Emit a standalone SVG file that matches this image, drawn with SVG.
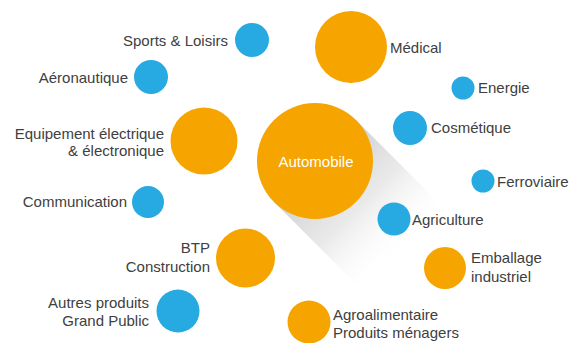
<svg xmlns="http://www.w3.org/2000/svg" width="569" height="343" viewBox="0 0 569 343">
<defs>
<linearGradient id="shadow" gradientUnits="userSpaceOnUse" x1="315" y1="161" x2="405" y2="251">
<stop offset="0" stop-color="#c4c4c4" stop-opacity="0.85"/>
<stop offset="0.5" stop-color="#d8d8d8" stop-opacity="0.55"/>
<stop offset="1" stop-color="#ffffff" stop-opacity="0"/>
</linearGradient>
</defs>
<style>
.o{fill:#F5A400}
.b{fill:#27A9E1}
text{font-family:"Liberation Sans",Arial,sans-serif;font-size:15px;fill:#404040}
.r{text-anchor:end}
.w{fill:#ffffff;text-anchor:middle}
</style>
<rect width="569" height="343" fill="#ffffff"/>
<g id="connectors"/>
<polygon points="356,120 274,202 374,302 456,220" fill="url(#shadow)"/>
<g id="automobile"><circle class="o" cx="315" cy="161" r="58"/><text class="w" x="316" y="167">Automobile</text></g>
<g id="sports"><circle class="b" cx="252" cy="40" r="17"/><text class="r" x="228" y="46">Sports &amp; Loisirs</text></g>
<g id="aeronautique"><circle class="b" cx="151" cy="77" r="17"/><text class="r" x="128" y="83">Aéronautique</text></g>
<g id="equipement"><circle class="o" cx="204" cy="141" r="33.5"/><text class="r" x="164" y="139">Equipement électrique</text><text class="r" x="164" y="156">&amp; électronique</text></g>
<g id="communication"><circle class="b" cx="148" cy="202" r="16"/><text class="r" x="127" y="207">Communication</text></g>
<g id="btp"><circle class="o" cx="245.5" cy="258" r="29.5"/><text class="r" x="210" y="253">BTP</text><text class="r" x="210" y="272">Construction</text></g>
<g id="autres"><circle class="b" cx="178" cy="311" r="21.5"/><text class="r" x="149" y="308">Autres produits</text><text class="r" x="149" y="326">Grand Public</text></g>
<g id="medical"><circle class="o" cx="351" cy="47" r="36"/><text x="390" y="53">Médical</text></g>
<g id="energie"><circle class="b" cx="463" cy="88" r="11.5"/><text x="478" y="93">Energie</text></g>
<g id="cosmetique"><circle class="b" cx="410" cy="128" r="17"/><text x="431" y="133">Cosmétique</text></g>
<g id="ferroviaire"><circle class="b" cx="483" cy="181" r="11.5"/><text x="497" y="187">Ferroviaire</text></g>
<g id="agriculture"><circle class="b" cx="394" cy="219" r="16.5"/><text x="412" y="225">Agriculture</text></g>
<g id="emballage"><circle class="o" cx="445" cy="268" r="21"/><text x="471" y="263">Emballage</text><text x="471" y="282">industriel</text></g>
<g id="agroalimentaire"><circle class="o" cx="309" cy="322" r="21.5"/><text x="333" y="320">Agroalimentaire</text><text x="333" y="338">Produits ménagers</text></g>
</svg>
